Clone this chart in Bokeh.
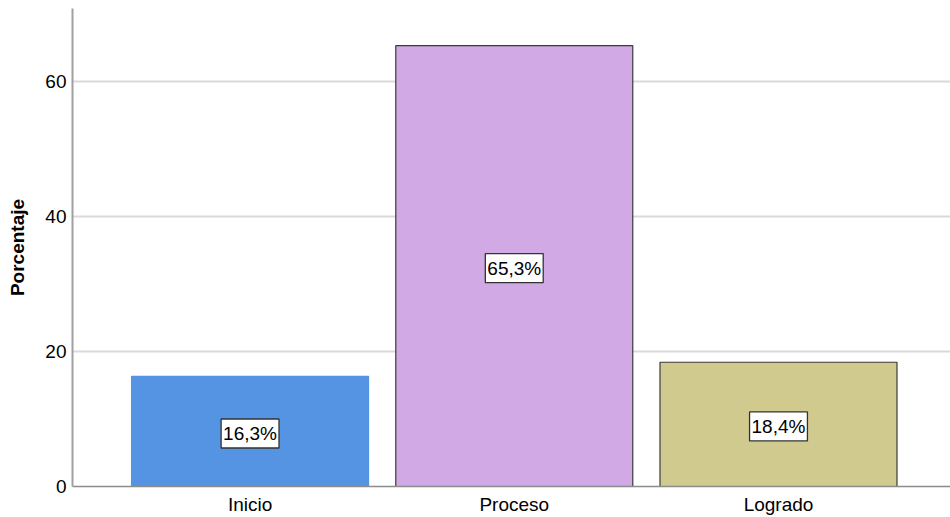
from bokeh.plotting import figure
from bokeh.models import ColumnDataSource, Range1d, FixedTicker
from bokeh.core.properties import value
from bokeh.embed import file_html
from bokeh.resources import INLINE

# Nivel alcanzado por los estudiantes (porcentaje)
categorias = ["Inicio", "Proceso", "Logrado"]
porcentajes = [16.3, 65.3, 18.4]
colores = ["#5494E3", "#D1A9E5", "#D1CA8E"]
bordes = ["#5494E3", "#3A3A3A", "#3A3A3A"]
y_ticks = [0, 20, 40, 60]

pos = list(range(len(categorias)))
etiquetas = [f"{v:.1f}%".replace(".", ",") for v in porcentajes]

src = ColumnDataSource(dict(
    x=pos,
    top=porcentajes,
    mid=[v / 2 for v in porcentajes],
    color=colores,
    borde=bordes,
    etiqueta=etiquetas,
))

FONT = "Liberation Sans"
SIZE = "19px"

p = figure(
    width=950, height=517,
    x_range=Range1d(-0.672, 2.651),
    y_range=Range1d(0, 70.8),
    output_backend="svg",
    toolbar_location=None,
    min_border_left=72, min_border_right=0,
    min_border_top=8, min_border_bottom=31,
)

p.outline_line_color = None
p.background_fill_color = "white"
p.border_fill_color = "white"

p.vbar(x="x", top="top", bottom=0, width=0.897, source=src,
       fill_color="color", line_color="borde", line_width=1.2)

# Valor de cada barra en un recuadro blanco
p.text(x="x", y="mid", text="etiqueta", source=src,
       text_align="center", text_baseline="middle",
       text_font=value(FONT), text_font_size=SIZE,
       text_color="black",
       background_fill_color="white",
       border_line_color="#333333", border_line_width=1.3,
       padding=dict(left=2, right=2, top=4, bottom=4),
       y_offset=2)

# Eje X con nombres de categoría
p.xaxis.ticker = FixedTicker(ticks=pos)
p.xaxis.major_label_overrides = {i: c for i, c in enumerate(categorias)}
p.xaxis.major_tick_line_color = None
p.xaxis.major_tick_out = 0
p.xaxis.major_tick_in = 0
p.xaxis.minor_tick_line_color = None
p.xaxis.axis_line_color = "#8C8C8C"
p.xaxis.axis_line_width = 1.5
p.xaxis.major_label_text_font = FONT
p.xaxis.major_label_text_font_size = SIZE
p.xaxis.major_label_text_color = "black"
p.xaxis.major_label_standoff = 7

# Eje Y
p.yaxis.ticker = FixedTicker(ticks=y_ticks)
p.yaxis.major_tick_line_color = None
p.yaxis.major_tick_out = 0
p.yaxis.major_tick_in = 0
p.yaxis.minor_tick_line_color = None
p.yaxis.axis_line_color = "#A0A0A0"
p.yaxis.axis_line_width = 2
p.yaxis.major_label_text_font = FONT
p.yaxis.major_label_text_font_size = SIZE
p.yaxis.major_label_text_color = "black"
p.yaxis.major_label_standoff = 6
p.yaxis.axis_label = "Porcentaje"
p.yaxis.axis_label_text_font = FONT
p.yaxis.axis_label_text_font_size = "19px"
p.yaxis.axis_label_text_font_style = "bold"
p.yaxis.axis_label_text_color = "black"
p.yaxis.axis_label_standoff = 14

p.xgrid.grid_line_color = None
p.ygrid.grid_line_color = "#D9D9D9"
p.ygrid.grid_line_width = 2
p.ygrid.level = "underlay"

open("out.html", "w").write(file_html(p, INLINE))
